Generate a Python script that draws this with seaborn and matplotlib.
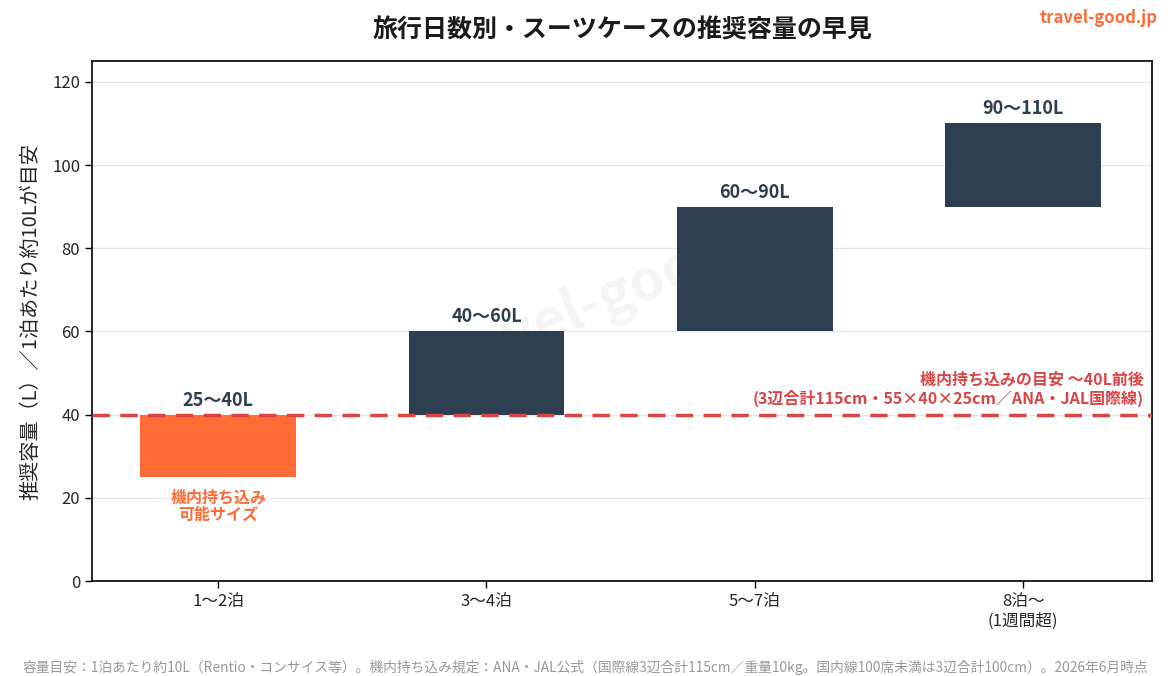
import matplotlib
matplotlib.use("Agg")
import matplotlib.pyplot as plt
import seaborn as sns
import numpy as np

categories = ["1〜2泊", "3〜4泊", "5〜7泊", "8泊〜\n(1週間超)"]
low_values = [25, 40, 60, 90]
high_values = [40, 60, 90, 110]
range_labels = ["25〜40L", "40〜60L", "60〜90L", "90〜110L"]
carry_on_limit = 40
yticks = [0, 20, 40, 60, 80, 100, 120]

NAVY = "#2d3e50"
ORANGE = "#ff6b35"
RED = "#d94444"

sns.set_theme(style="white")
plt.rcParams["font.family"] = ["Noto Sans CJK JP", "DejaVu Sans"]

fig = plt.figure(figsize=(11.7, 6.76), dpi=100)
ax = fig.add_axes([92/1170, 1-581/676, (1152-92)/1170, (581-61)/676])

heights = [h - l for h, l in zip(high_values, low_values)]
sns.barplot(x=categories, y=heights, bottom=low_values, color=NAVY,
            width=0.58, saturation=1, ax=ax, zorder=3, linewidth=0, edgecolor="none")
ax.patches[0].set_facecolor(ORANGE)

ax.set_ylim(0, 125)
ax.set_xlim(-0.47, 3.48)
ax.set_yticks(yticks)
ax.yaxis.grid(True, color="#e6e6e6", linewidth=1, zorder=0)
ax.set_axisbelow(True)
for s in ax.spines.values():
    s.set_visible(True)
    s.set_color("black")
    s.set_linewidth(1.2)
ax.tick_params(axis="both", which="both", direction="out", length=5, width=1,
               color="black", labelsize=12, left=True, bottom=True)
ax.set_xlabel("")
ax.set_ylabel("推奨容量（L）／1泊あたり約10Lが目安", fontsize=14.5, labelpad=8)

for i, (hv, lab) in enumerate(zip(high_values, range_labels)):
    ax.text(i, hv + 1.2, lab, ha="center", va="bottom", fontsize=13,
            fontweight="bold", color=NAVY, zorder=5)

ax.text(0, 22, "機内持ち込み\n可能サイズ", ha="center", va="top", fontsize=11.5,
        fontweight="bold", color=ORANGE, linespacing=1.1)

ax.axhline(carry_on_limit, color=RED, linestyle=(0, (5, 3)), linewidth=2.5, zorder=4)
ax.text(3.45, carry_on_limit + 1.8,
        "機内持ち込みの目安 〜40L前後\n(3辺合計115cm・55×40×25cm／ANA・JAL国際線)",
        ha="right", va="bottom", fontsize=11.5, fontweight="bold", color=RED,
        linespacing=1.15)

# watermark
ax.text(0.492, 0.545, "travel-good.jp", transform=ax.transAxes, ha="center", va="center",
        fontsize=40, fontweight="bold", color="#000000", alpha=0.045, rotation=22,
        zorder=1)

fig.text(622/1170, 1-30/676, "旅行日数別・スーツケースの推奨容量の早見", ha="center", va="center",
         fontsize=18, fontweight="bold", color="#1a1a1a")
fig.text(1158/1170, 1-18/676, "travel-good.jp", ha="right", va="center",
         fontsize=12, fontweight="bold", color=ORANGE)
fig.text(0.5, 1-667/676,
         "容量目安：1泊あたり約10L（Rentio・コンサイス等）。機内持ち込み規定：ANA・JAL公式（国際線3辺合計115cm／重量10kg。国内線100席未満は3辺合計100cm）。2026年6月時点",
         ha="center", va="center", fontsize=9.9, color="#999999")

fig.savefig("out.png", dpi=100)
